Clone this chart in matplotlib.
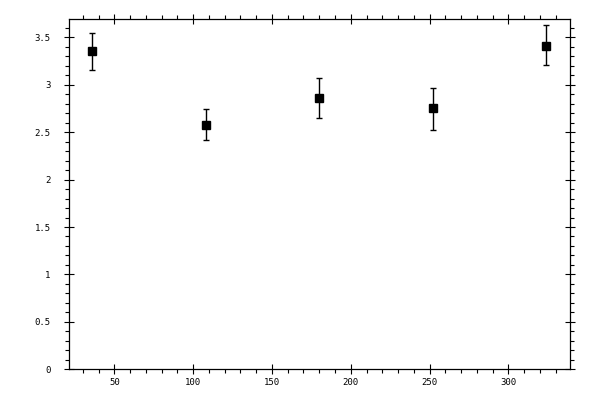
import numpy as np
import matplotlib
matplotlib.use('Agg')
import matplotlib.pyplot as plt
from matplotlib.ticker import MultipleLocator, FormatStrFormatter

x_vals = [36, 108, 180, 252, 324]
y_vals = [3.36, 2.575, 2.865, 2.75, 3.405]
y_err_hi = [0.19, 0.165, 0.21, 0.22, 0.22]
y_err_lo = [0.20, 0.16, 0.22, 0.23, 0.20]

fig = plt.figure(figsize=(6, 4), dpi=100)
ax = fig.add_axes([0.1155, 0.0768, 0.835, 0.875])

ax.errorbar(x_vals, y_vals, yerr=[y_err_lo, y_err_hi], fmt='s', color='black',
            ms=5.2, capsize=2.2, elinewidth=1.0, capthick=1.0)

ax.set_xlim(21.4, 339.3)
ax.set_ylim(0, 3.69)

ax.xaxis.set_major_locator(MultipleLocator(50))
ax.xaxis.set_minor_locator(MultipleLocator(10))
ax.yaxis.set_major_locator(MultipleLocator(0.5))
ax.yaxis.set_minor_locator(MultipleLocator(0.1))
ax.yaxis.set_major_formatter(FormatStrFormatter('%g'))

for s in ax.spines.values():
    s.set_linewidth(0.9)

ax.tick_params(which='major', direction='inout', length=7, width=0.8,
               top=True, right=True, labeltop=False, labelright=False,
               labelsize=6.5)
ax.tick_params(which='minor', direction='out', length=3, width=0.8,
               top=True, right=True)
ax.tick_params(axis='x', which='major', pad=3)
ax.tick_params(axis='y', which='major', pad=10)
for lab in ax.get_xticklabels() + ax.get_yticklabels():
    lab.set_family('DejaVu Sans Mono')

fig.savefig('out.png', dpi=100)
